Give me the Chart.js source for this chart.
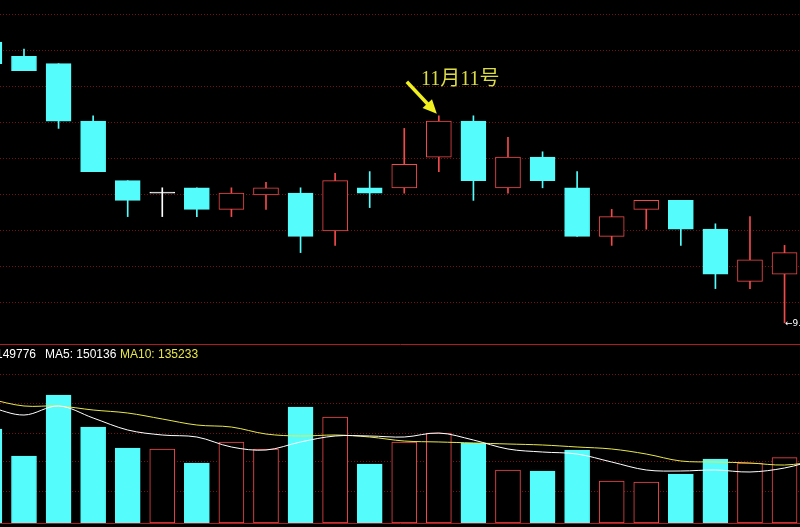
<!DOCTYPE html>
<html>
<head>
<meta charset="utf-8">
<script src="https://cdn.jsdelivr.net/npm/chart.js@4"></script>
<style>
  html, body { margin: 0; padding: 0; background: #000; }
  body { width: 800px; height: 527px; overflow: hidden; position: relative; }
  #kbox { position: absolute; left: 0; top: 0; width: 800px; height: 346px; }
  #vbox { position: absolute; left: 0; top: 345px; width: 800px; height: 182px; }
  .txt { position: absolute; white-space: pre; line-height: 1; }
</style>
</head>
<body>
<div id="kbox"><canvas id="kline"></canvas></div>
<div id="vbox"><canvas id="vol"></canvas></div>
<div class="txt" style="left:421px;top:62px;color:#dcdc46;font:20px 'Liberation Serif','Noto Sans CJK SC',serif;">11月11号</div>
<div class="txt" style="left:-4px;top:347px;color:#fff;font:12px 'Liberation Sans',Arial,sans-serif;">149776</div>
<div class="txt" style="left:45px;top:347px;color:#fff;font:12px 'Liberation Sans',Arial,sans-serif;">MA5: 150136</div>
<div class="txt" style="left:120px;top:347px;color:#e6e64a;font:12px 'Liberation Sans',Arial,sans-serif;">MA10: 135233</div>
<div class="txt" style="left:785px;top:318px;color:#fff;font:9px 'DejaVu Sans',sans-serif;">←9.89</div>
<script>
// trading days shown (index 0 is cut off at the left edge)
const days = [0, 1, 2, 3, 4, 5, 6, 7, 8, 9, 10, 11, 12, 13, 14, 15, 16, 17, 18, 19, 20, 21, 22, 23];

const open  = [11.45, 11.37, 11.33, 11.01, 10.68, 10.61, 10.64, 10.52, 10.60, 10.61, 10.40, 10.64,
               10.64, 10.81, 11.01, 10.64, 10.81, 10.64, 10.37, 10.52, 10.57, 10.41, 10.12, 10.16];
const high  = [11.45, 11.41, 11.33, 11.04, 10.68, 10.64, 10.64, 10.64, 10.67, 10.64, 10.72, 10.73,
               10.97, 11.04, 11.04, 10.92, 10.84, 10.73, 10.52, 10.57, 10.57, 10.44, 10.48, 10.32];
const low   = [11.33, 11.29, 10.97, 10.73, 10.48, 10.48, 10.48, 10.48, 10.52, 10.28, 10.32, 10.53,
               10.61, 10.73, 10.57, 10.61, 10.64, 10.37, 10.32, 10.41, 10.32, 10.08, 10.08, 9.89];
const close = [11.33, 11.29, 11.01, 10.73, 10.57, 10.61, 10.52, 10.61, 10.64, 10.37, 10.68, 10.61,
               10.77, 11.01, 10.68, 10.81, 10.68, 10.37, 10.48, 10.57, 10.41, 10.16, 10.24, 10.28];

const volume = [215400, 153600, 293400, 220000, 171900, 169600, 137500, 185700, 169600, 265900, 243000, 135200,
                185700, 206300, 183400, 121500, 119200, 167300, 96300, 94000, 112300, 146700, 137500, 149776];

// moving average lines run one day past the right edge
const maDays = [0, 1, 2, 3, 4, 5, 6, 7, 8, 9, 10, 11, 12, 13, 14, 15, 16, 17, 18, 19, 20, 21, 22, 23, 24];
const ma5  = [265900, 247500, 268200, 240700, 213200, 201700, 197100, 174200, 167300, 185700, 199400, 199400,
              197100, 206300, 190200, 169600, 162700, 158100, 139800, 121500, 119200, 121500, 116900, 126100, 146700];
const ma10 = [284200, 268200, 268200, 259000, 252100, 238400, 224600, 220000, 204000, 199400, 201700, 197100,
              187900, 185700, 183400, 181100, 178800, 174200, 169600, 158100, 142100, 139800, 137500, 132900, 142100];

const priceGrid = [10.0, 10.2, 10.4, 10.6, 10.8, 11.0, 11.2, 11.4, 11.6];
const volGrid = [73000, 140000, 206000, 275000, 341000];

const noteDay = 13;

const UP = '#f24a4a', DOWN = '#54fcfc', FLAT = '#ffffff';
const GRID = '#7a1010', FRAME = '#b01c1c';

const candleColor = (i) => close[i] > open[i] ? UP : (close[i] < open[i] ? DOWN : FLAT);

const xRange = { min: 0.306, max: 23.447 };

const hiddenX = {
  type: 'linear', min: xRange.min, max: xRange.max, offset: false,
  grid: { display: false, drawTicks: false },
  ticks: { display: false },
  border: { display: true, color: FRAME, width: 1 }
};

const arrowNote = {
  id: 'arrowNote',
  afterDatasetsDraw(chart) {
    const { ctx, scales: { x, y } } = chart;
    const tx = x.getPixelForValue(noteDay) - 2;
    const ty = y.getPixelForValue(high[noteDay]) - 2;
    const sx = tx - 30, sy = ty - 32;
    const a = Math.atan2(ty - sy, tx - sx);
    const c = Math.cos(a), s = Math.sin(a);
    ctx.save();
    ctx.strokeStyle = '#f0f020';
    ctx.fillStyle = '#f0f020';
    ctx.lineWidth = 3.5;
    ctx.beginPath();
    ctx.moveTo(sx, sy);
    ctx.lineTo(tx - 10 * c, ty - 10 * s);
    ctx.stroke();
    ctx.beginPath();
    ctx.moveTo(tx, ty);
    ctx.lineTo(tx - 14 * c + 6.5 * s, ty - 14 * s - 6.5 * c);
    ctx.lineTo(tx - 14 * c - 6.5 * s, ty - 14 * s + 6.5 * c);
    ctx.closePath();
    ctx.fill();
    ctx.restore();
  }
};

new Chart(document.getElementById('kline'), {
  type: 'bar',
  data: {
    datasets: [{
      label: 'body',
      data: days.map(i => ({ x: i, y: [open[i], close[i]] })),
      backgroundColor: days.map(i => close[i] > open[i] ? '#000000' : candleColor(i)),
      borderColor: days.map(i => candleColor(i)),
      borderWidth: 1,
      borderSkipped: false,
      minBarLength: 1,
      barThickness: 25,
      grouped: false,
      order: 1
    }, {
      label: 'wick',
      data: days.map(i => ({ x: i, y: [low[i], high[i]] })),
      backgroundColor: days.map(i => candleColor(i)),
      borderWidth: 0,
      barThickness: 1,
      grouped: false,
      order: 2
    }]
  },
  options: {
    animation: false,
    responsive: true,
    maintainAspectRatio: false,
    events: [],
    layout: { padding: { top: 0, bottom: 2, left: 0, right: 0 } },
    plugins: { legend: { display: false }, tooltip: { enabled: false } },
    scales: {
      x: hiddenX,
      y: {
        min: 9.7722, max: 11.6833,
        grid: { color: GRID, drawTicks: false },
        border: { display: false, dash: [1, 2] },
        ticks: { display: false },
        afterBuildTicks: (s) => { s.ticks = priceGrid.map(v => ({ value: v })); }
      }
    }
  },
  plugins: [arrowNote]
});

new Chart(document.getElementById('vol'), {
  type: 'bar',
  data: {
    datasets: [{
      type: 'line',
      label: 'MA5',
      data: maDays.map(i => ({ x: i, y: ma5[i] })),
      borderColor: '#ffffff',
      borderWidth: 1,
      pointRadius: 0,
      tension: 0.35,
      order: 1
    }, {
      type: 'line',
      label: 'MA10',
      data: maDays.map(i => ({ x: i, y: ma10[i] })),
      borderColor: '#e8e84a',
      borderWidth: 1,
      pointRadius: 0,
      tension: 0.35,
      order: 2
    }, {
      label: 'VOL',
      data: days.map(i => ({ x: i, y: volume[i] })),
      backgroundColor: days.map(i => close[i] >= open[i] ? '#000000' : DOWN),
      borderColor: days.map(i => close[i] >= open[i] ? UP : DOWN),
      borderWidth: 1,
      borderSkipped: false,
      barThickness: 25,
      grouped: false,
      order: 3
    }]
  },
  options: {
    animation: false,
    responsive: true,
    maintainAspectRatio: false,
    events: [],
    layout: { padding: { top: 0, bottom: 4, left: 0, right: 0 } },
    plugins: { legend: { display: false }, tooltip: { enabled: false } },
    scales: {
      x: hiddenX,
      y: {
        min: 0, max: 408000,
        grid: { color: GRID, drawTicks: false },
        border: { display: false, dash: [1, 2] },
        ticks: { display: false },
        afterBuildTicks: (s) => { s.ticks = volGrid.map(v => ({ value: v })); }
      }
    }
  }
});
</script>
</body>
</html>
